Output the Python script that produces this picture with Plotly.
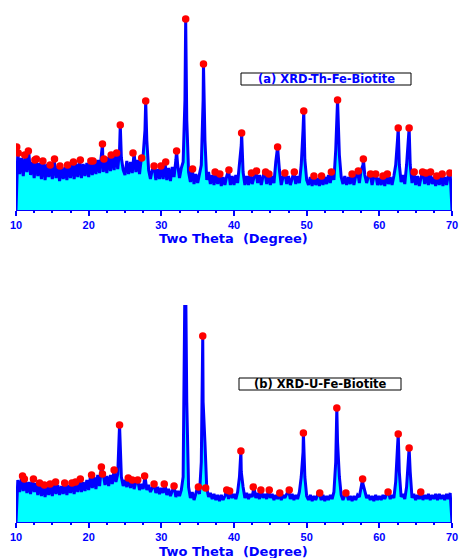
import numpy as np
import plotly.graph_objects as go

# ---------------- data ----------------
# scan grid 10..70 deg, 0.25 deg step (241 points)
scan_start = 10.0
scan_step = 0.25
scan_n = 241

# (a) Th-Fe-Biotite scan intensity (arb. units)
int_a = [
    0, 58, 36, 52, 34, 55, 38, 59, 35, 48, 32, 51, 34, 47, 31, 49, 30, 46, 33, 45,
    31, 51, 32, 44, 29, 44, 31, 43, 30, 45, 32, 48, 31, 46, 33, 50, 32, 46, 34, 47,
    33, 49, 35, 48, 36, 50, 37, 52, 38, 51, 37, 53, 39, 55, 40, 57, 41, 60, 52, 40,
    35, 49, 36, 48, 37, 57, 38, 50, 36, 52, 55, 80, 70, 40, 31, 40, 44, 30, 41, 31,
    44, 31, 48, 30, 42, 29, 43, 33, 50, 45, 32, 42, 48, 110, 90, 38, 28, 41, 26, 36,
    27, 37, 45, 110, 70, 30, 38, 26, 35, 25, 38, 26, 36, 24, 33, 25, 34, 40, 25, 34,
    25, 35, 27, 45, 65, 38, 25, 34, 25, 37, 26, 34, 39, 27, 35, 25, 34, 38, 26, 36,
    25, 34, 27, 48, 55, 40, 25, 33, 37, 26, 34, 25, 33, 38, 26, 34, 27, 45, 80, 50,
    30, 25, 33, 24, 34, 25, 32, 24, 34, 25, 33, 26, 35, 27, 38, 30, 60, 75, 55, 33,
    26, 34, 25, 33, 26, 36, 25, 34, 39, 27, 40, 45, 35, 27, 34, 36, 25, 33, 36, 25,
    32, 25, 34, 24, 36, 26, 33, 25, 34, 45, 70, 45, 28, 35, 26, 45, 70, 45, 27, 38,
    25, 34, 24, 33, 38, 26, 37, 25, 38, 26, 33, 24, 34, 25, 36, 24, 33, 25, 35, 37,
    0,
]
peak_pos_a = [21.9, 24.35, 27.85, 32.1, 33.35, 35.8, 41.05, 46.0, 49.6, 54.25, 57.8, 62.6, 64.1]
peak_int_a = [66, 85, 109, 59, 191, 146, 77, 63, 99, 110, 51, 82, 82]

dot_pos_a = [10.1, 10.3, 11.2, 11.7, 12.6, 12.8, 13.7, 14.7, 15.3, 16.05,
             17.1, 17.9, 18.85, 20.3, 20.6, 21.9, 22.1, 23.1, 23.85, 24.35,
             26.1, 27.3, 27.85, 29.0, 29.95, 30.6, 32.1, 33.35, 34.3, 35.8,
             37.4, 38.05, 39.3, 41.05, 42.4, 43.1, 44.35, 44.8, 46.0, 47.0,
             48.3, 49.6, 51.0, 52.05, 53.4, 54.25, 56.25, 57.1, 57.8, 58.8,
             59.5, 60.5, 61.1, 62.6, 64.1, 64.8, 65.95, 66.4, 67.05, 67.9,
             68.65, 69.7]
dot_int_a = [63, 57, 55, 59, 50, 51, 49, 45, 51, 44,
             45, 48, 50, 49, 49, 66, 51, 55, 57, 85,
             57, 52, 109, 44, 44, 48, 59, 191, 41, 146,
             38, 36, 40, 77, 37, 39, 38, 36, 63, 37,
             38, 99, 34, 34, 38, 110, 36, 39, 51, 36,
             36, 34, 36, 82, 82, 38, 38, 37, 38, 34,
             36, 37]

# (b) U-Fe-Biotite
int_b = [
    0, 42, 30, 44, 31, 43, 29, 40, 28, 43, 30, 39, 27, 39, 26, 36, 25, 37, 27, 38,
    26, 40, 28, 37, 27, 36, 28, 39, 27, 37, 29, 39, 28, 40, 30, 43, 30, 40, 31, 42,
    32, 46, 34, 45, 33, 47, 36, 55, 48, 37, 46, 36, 47, 38, 52, 40, 48, 80, 45, 36,
    42, 35, 44, 34, 42, 33, 40, 42, 32, 38, 33, 46, 32, 37, 30, 35, 38, 29, 35, 28,
    34, 29, 38, 27, 33, 26, 32, 36, 25, 31, 26, 32, 45, 200, 120, 35, 24, 30, 22, 28,
    35, 28, 60, 120, 80, 34, 25, 29, 23, 28, 22, 27, 21, 27, 22, 26, 32, 23, 31, 24,
    28, 23, 30, 45, 50, 35, 24, 29, 23, 28, 25, 35, 24, 29, 23, 32, 24, 28, 23, 32,
    24, 28, 22, 27, 23, 29, 22, 27, 24, 28, 32, 23, 28, 22, 27, 23, 30, 45, 70, 45,
    26, 22, 27, 21, 26, 22, 27, 29, 22, 27, 21, 26, 22, 27, 23, 30, 60, 80, 45, 27,
    22, 27, 29, 22, 26, 21, 26, 22, 27, 25, 35, 38, 30, 24, 27, 22, 26, 21, 27, 22,
    26, 22, 27, 23, 28, 30, 23, 27, 24, 40, 75, 50, 25, 28, 23, 35, 65, 50, 24, 28,
    22, 27, 23, 30, 22, 27, 23, 28, 22, 27, 23, 28, 22, 28, 23, 27, 22, 28, 23, 29,
    0,
]
peak_pos_b = [24.25, 33.3, 35.7, 40.95, 49.55, 54.15, 57.7, 62.6, 64.1]
peak_int_b = [97, 280, 186, 71, 89, 114, 43, 88, 74]

dot_pos_b = [10.9, 11.15, 12.4, 13.25, 13.9, 14.7, 15.45, 16.7, 17.7, 18.2,
             18.85, 20.4, 21.75, 21.9, 23.5, 24.25, 25.45, 26.0, 26.75, 27.7,
             29.0, 30.4, 31.75, 35.1, 35.7, 36.1, 39.0, 39.4, 40.95, 42.65,
             43.7, 44.85, 46.3, 47.6, 49.55, 51.8, 54.15, 55.4, 57.7, 61.2,
             62.6, 64.1, 65.7]
dot_int_b = [46, 43, 43, 39, 37, 38, 40, 39, 39, 40,
             43, 47, 55, 48, 52, 97, 44, 42, 42, 46,
             38, 38, 36, 35, 186, 34, 32, 31, 71, 35,
             32, 32, 29, 32, 89, 29, 114, 29, 43, 30,
             88, 74, 30]

x_ticks = [10, 20, 30, 40, 50, 60, 70]
label_a = "(a) XRD-Th-Fe-Biotite"
label_b = "(b) XRD-U-Fe-Biotite"
x_title = "Two Theta  (Degree)"

assert len(int_a) == scan_n and len(int_b) == scan_n

grid = [round(scan_start + i * scan_step, 2) for i in range(scan_n)]


def merge(values, ppos, pint):
    d = dict(zip(grid, values))
    for p, v in zip(ppos, pint):
        d[round(p, 2)] = v
    xs = sorted(d)
    return xs, [d[k] for k in xs]


xa, ya = merge(int_a, peak_pos_a, peak_int_a)
xb, yb = merge(int_b, peak_pos_b, peak_int_b)

BLUE = "#0000FF"
CYAN = "#00FFFF"
RED = "#FF0000"

fig = go.Figure()
for xs, ys, xr, yr in [(xa, ya, "x", "y"), (xb, yb, "x2", "y2")]:
    fig.add_trace(go.Scatter(x=xs, y=ys, mode="lines", fill="tozeroy",
                             fillcolor=CYAN, line=dict(color=BLUE, width=3),
                             xaxis=xr, yaxis=yr, showlegend=False, hoverinfo="skip"))
fig.add_trace(go.Scatter(x=dot_pos_a, y=dot_int_a, mode="markers",
                         marker=dict(color=RED, size=7.5, line=dict(width=0)),
                         xaxis="x", yaxis="y", showlegend=False))
fig.add_trace(go.Scatter(x=dot_pos_b, y=dot_int_b, mode="markers",
                         marker=dict(color=RED, size=7.5, line=dict(width=0)),
                         xaxis="x2", yaxis="y2", showlegend=False))

W, H = 460, 558
px0, px1 = 16, 452
dom_x = [px0 / W, px1 / W]


def ydom(top, bottom):
    return [(H - bottom) / H, (H - top) / H]


xaxis_common = dict(
    range=[10, 70], domain=dom_x, tickvals=x_ticks, ticks="outside",
    ticklen=5, tickwidth=1.5, tickcolor=BLUE, automargin=False,
    showline=True, linecolor=BLUE, linewidth=1,
    showgrid=False, zeroline=False,
    tickfont=dict(family="Liberation Sans, Arial", size=11, color=BLUE, weight="bold"),
    minor=dict(dtick=2.5, tick0=10, ticks="outside", ticklen=2, tickwidth=1.5,
               tickcolor=BLUE, showgrid=False),
)

fig.update_layout(
    width=W, height=H, margin=dict(l=0, r=0, t=0, b=0),
    paper_bgcolor="white", plot_bgcolor="white",
    xaxis=dict(anchor="y", **xaxis_common),
    xaxis2=dict(anchor="y2", **xaxis_common),
    yaxis=dict(domain=ydom(15, 210), range=[0, 195], visible=False, automargin=False),
    yaxis2=dict(domain=ydom(305, 522), range=[0, 217], visible=False, automargin=False),
)

title_font = dict(family="DejaVu Sans", size=13, color=BLUE, weight="bold")
box_font = dict(family="DejaVu Sans", size=11.5, weight="bold")
xc = (px0 + px1) / 2 / W
fig.add_annotation(x=xc, y=(H - 238) / H, xref="paper", yref="paper",
                   text=x_title, showarrow=False, font=title_font,
                   xanchor="center", yanchor="middle")
fig.add_annotation(x=xc, y=(H - 551) / H, xref="paper", yref="paper",
                   text=x_title, showarrow=False, font=title_font,
                   xanchor="center", yanchor="middle")

fig.add_shape(type="rect", xref="paper", yref="paper",
              x0=241 / W, x1=411 / W, y0=(H - 85) / H, y1=(H - 73) / H,
              line=dict(color="black", width=1))
fig.add_shape(type="rect", xref="paper", yref="paper",
              x0=239 / W, x1=401 / W, y0=(H - 390) / H, y1=(H - 378) / H,
              line=dict(color="black", width=1))
fig.add_annotation(x=326 / W, y=(H - 79) / H, xref="paper", yref="paper",
                   text=label_a, showarrow=False, xanchor="center", yanchor="middle",
                   font=dict(color=BLUE, **box_font))
fig.add_annotation(x=320 / W, y=(H - 384) / H, xref="paper", yref="paper",
                   text=label_b, showarrow=False, xanchor="center", yanchor="middle",
                   font=dict(color="black", **box_font))

fig.write_html("out.html")
